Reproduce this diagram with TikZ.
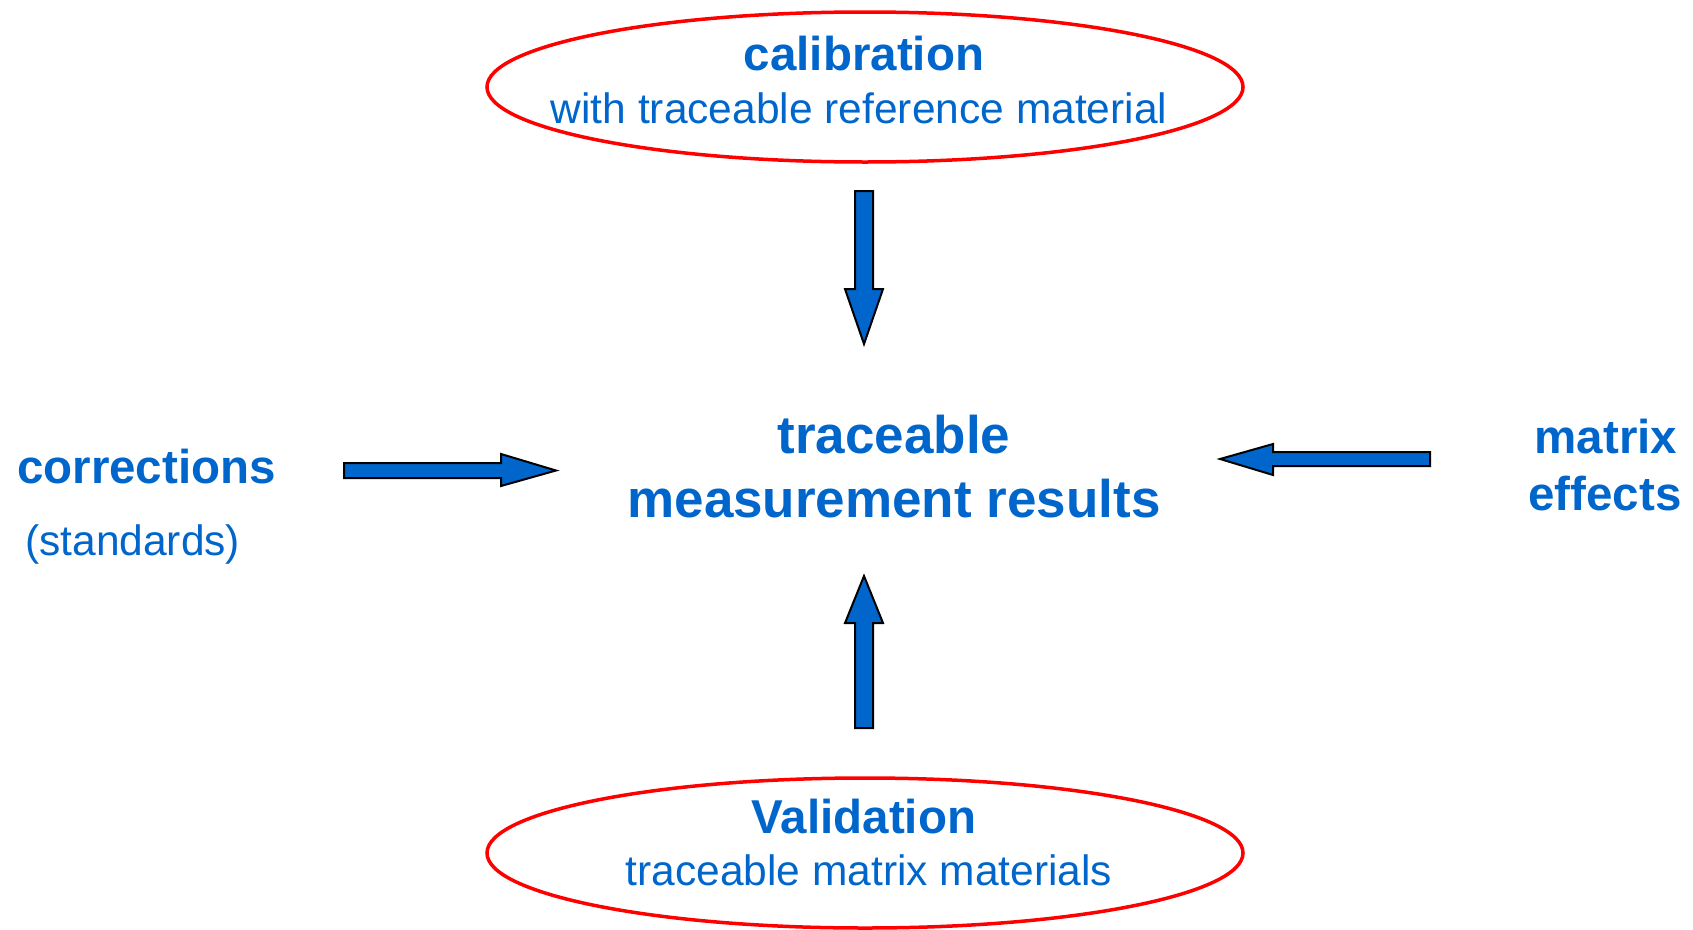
\documentclass[tikz,border=0pt]{standalone}
\usepackage{fontspec}
\setmainfont{Liberation Sans}
\usetikzlibrary{shapes.geometric}
\definecolor{tblue}{HTML}{0066CC}
\definecolor{ered}{HTML}{FF0000}
\tikzset{
  oval/.style={draw=ered, line width=3.5pt, ellipse, inner sep=0pt, minimum width=756pt, minimum height=150pt},
  bigtxt/.style={text=tblue, anchor=base, inner sep=0pt, font=\bfseries\fontsize{53}{60}\selectfont},
  boldtxt/.style={text=tblue, anchor=base, inner sep=0pt, font=\bfseries\fontsize{47.5}{56}\selectfont},
  regtxt/.style={text=tblue, anchor=base, inner sep=0pt, font=\fontsize{42.5}{50}\selectfont},
  blockarrow/.style={draw=black, fill=tblue, line width=2pt, line join=miter}
}
\begin{document}
\begin{tikzpicture}[x=1pt,y=-1pt]
\useasboundingbox (0,0) rectangle (1693,929);
% ellipses
\node[oval] (calib) at (865,87) {};
\node[oval] (valid) at (865,853) {};
% texts
\node[boldtxt] (calibt) at (864,70) {calibration};
\node[regtxt] (calibs) at (859,123) {with traceable reference material};
\node[boldtxt] (validt) at (864,833) {Validation};
\node[regtxt] (valids) at (869,885) {traceable matrix materials};
\node[bigtxt] (res1) at (894,453) {traceable};
\node[bigtxt] (res2) at (894,517) {measurement results};
\node[boldtxt, anchor=base west] (corr) at (17,483) {corrections};
\node[regtxt, anchor=base west] (std) at (25,555) {(standards)};
\node[boldtxt] (mat1) at (1606,453) {matrix};
\node[boldtxt] (mat2) at (1605,510) {effects};
% block arrows
\draw[blockarrow] (855,191) -- (873,191) -- (873,289) -- (883,289) -- (864,344) -- (845,289) -- (855,289) -- cycle;
\draw[blockarrow] (855,728) -- (873,728) -- (873,623) -- (883,623) -- (864,576) -- (845,623) -- (855,623) -- cycle;
\draw[blockarrow] (344,463) -- (501,463) -- (501,454) -- (556,470.5) -- (501,486) -- (501,478) -- (344,478) -- cycle;
\draw[blockarrow] (1430,452) -- (1273,452) -- (1273,444) -- (1220,459) -- (1273,475) -- (1273,466) -- (1430,466) -- cycle;
\end{tikzpicture}
\end{document}
